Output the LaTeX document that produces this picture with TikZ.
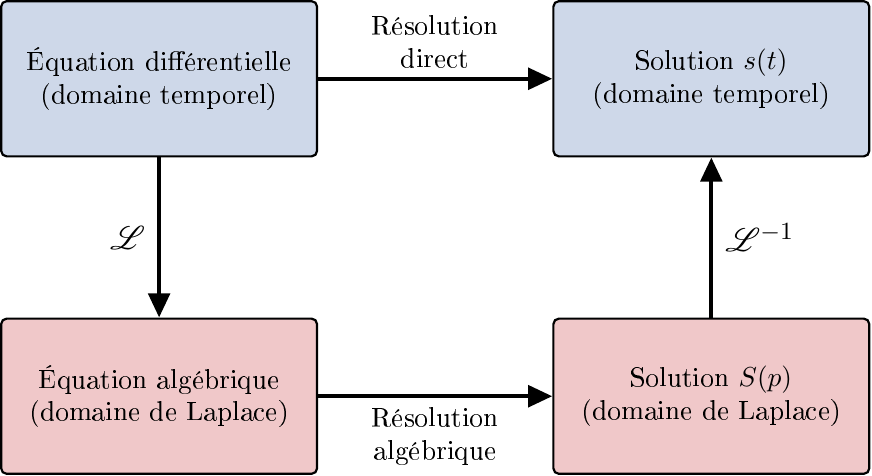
\documentclass[tikz,border=0pt]{standalone}
\usepackage[T1]{fontenc}
\usepackage{amsmath,mathrsfs}
\usepackage{tikz}
\usetikzlibrary{shapes,arrows.meta}

\definecolor{tempblue}{RGB}{206,216,233}
\definecolor{laplred}{RGB}{240,200,201}

\begin{document}
\begin{tikzpicture}[auto,thick,>={Triangle[length=8.8pt,width=7.8pt]},
    box/.style={draw,rounded corners=2pt,minimum width=4.05cm,minimum height=1.99cm,align=center},
    flow/.style={->,line width=1.55pt},
    op/.style={font=\fontsize{13pt}{15pt}\selectfont}]
\useasboundingbox (0,0) rectangle (11.18,-6.10);
\draw
    node at (2.04,-1.01)[box,fill=tempblue,name=edo]{\'Equation diff\'erentielle\\(domaine temporel)}
    node at (9.12,-1.01)[box,fill=tempblue,name=sol]{Solution $s(t)$\\(domaine temporel)}
    node at (2.04,-5.08)[box,fill=laplred,name=alg]{\'Equation alg\'ebrique\\(domaine de Laplace)}
    node at (9.12,-5.08)[box,fill=laplred,name=solp]{Solution $S(p)$\\(domaine de Laplace)}
;

    \draw[flow](edo) -- node[above,align=center]{R\'esolution\\direct} (sol);
    \draw[flow](edo) -- node[left,op,xshift=-1pt]{$\mathscr{L}$} (alg);
    \draw[flow](alg) -- node[below,align=center]{R\'esolution\\alg\'ebrique} (solp);
    \draw[flow](solp) -- node[right,op,xshift=1pt]{$\mathscr{L}^{-1}$} (sol);
\end{tikzpicture}
\end{document}
